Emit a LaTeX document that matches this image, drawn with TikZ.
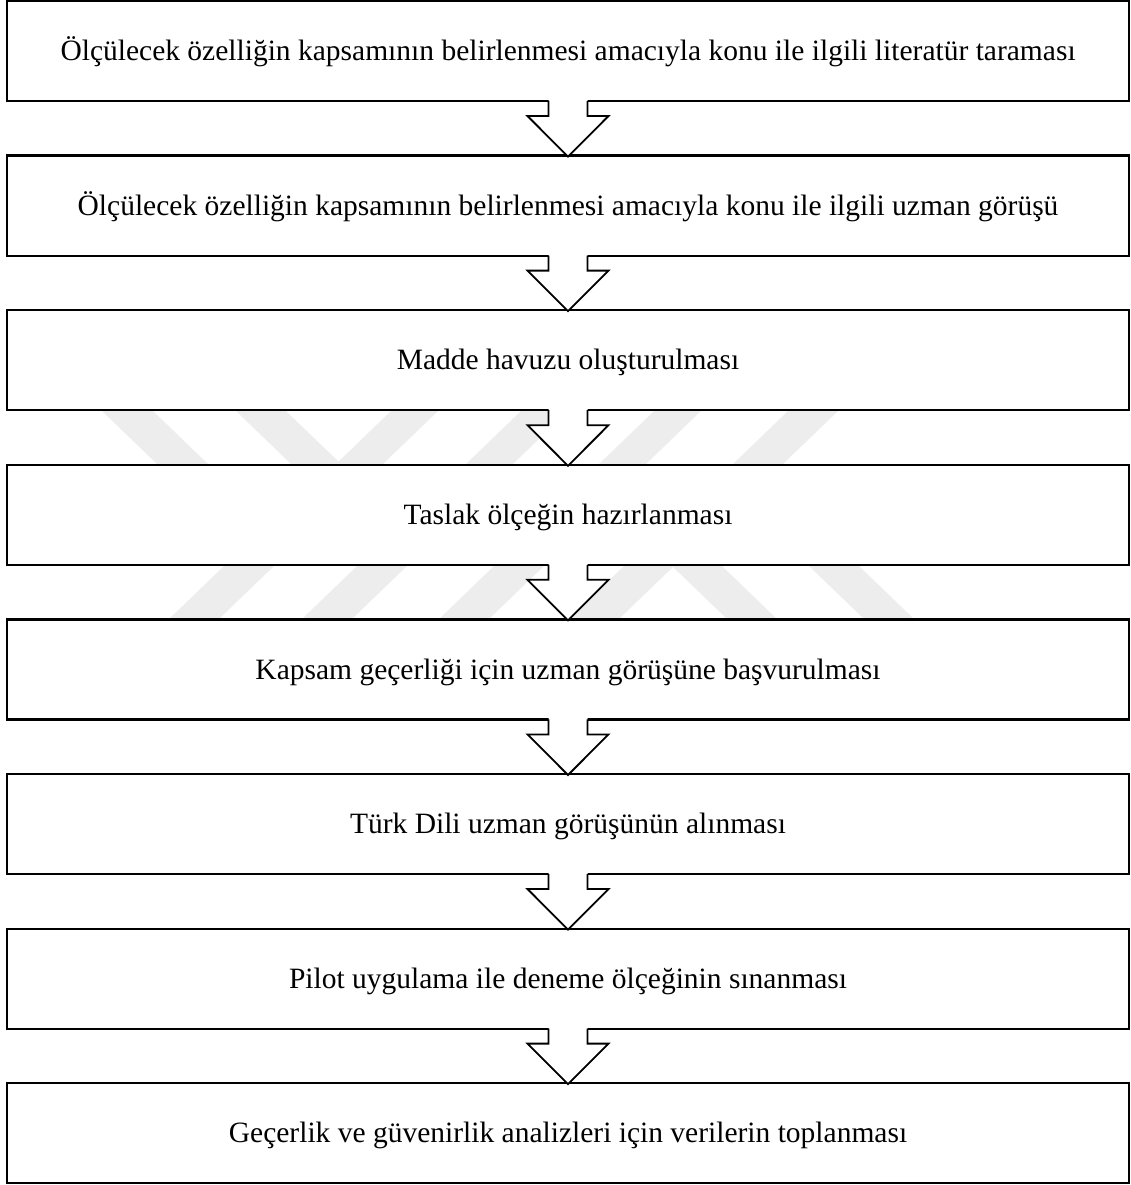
\documentclass[tikz,border=0pt]{standalone}
\usepackage{fontspec}
\setmainfont{Liberation Serif}
\usetikzlibrary{calc}
\tikzset{
  stepbox/.style={draw=black, line width=2.2pt, fill=white, rectangle,
    minimum width=1122pt, minimum height=100pt, inner sep=0pt, outer sep=0pt,
    text height=19.5pt, text depth=0pt, font=\fontsize{29.5}{34}\selectfont},
  flowarrow/.style={draw=black, line width=1.8pt, line join=miter},
  wmark/.style={fill=black!7},
}
\begin{document}
\begin{tikzpicture}[x=1pt,y=-1pt]
\useasboundingbox (0,0) rectangle (1130,1185);
% faint watermark seen in two gaps
\begin{scope}
  \clip (0,411) rectangle (1130,464);
  \fill[wmark] (102,411) -- (153,411) -- (208,464) -- (157,464) -- cycle;
  \fill[wmark] (236,411) -- (286,411) -- (341,464) -- (291,464) -- cycle;
  \fill[wmark] (391,411) -- (438,411) -- (383,464) -- (336,464) -- cycle;
  \fill[wmark] (521,411) -- (568,411) -- (513,464) -- (466,464) -- cycle;
  \fill[wmark] (654,411) -- (701,411) -- (646,464) -- (599,464) -- cycle;
  \fill[wmark] (788,411) -- (838,411) -- (783,464) -- (733,464) -- cycle;
\end{scope}
\begin{scope}
  \clip (0,566) rectangle (1130,619);
  \fill[wmark] (224,566) -- (274,566) -- (219,619) -- (169,619) -- cycle;
  \fill[wmark] (357,566) -- (407,566) -- (352,619) -- (302,619) -- cycle;
  \fill[wmark] (494,566) -- (544,566) -- (489,619) -- (439,619) -- cycle;
  \fill[wmark] (624,566) -- (674,566) -- (619,619) -- (569,619) -- cycle;
  \fill[wmark] (672,566) -- (722,566) -- (777,619) -- (727,619) -- cycle;
  \fill[wmark] (809,566) -- (859,566) -- (914,619) -- (864,619) -- cycle;
\end{scope}
% boxes
\node[stepbox] (b1) at (568,51)     {Ölçülecek özelliğin kapsamının belirlenmesi amacıyla konu ile ilgili literatür taraması};
\node[stepbox] (b2) at (568,205.6)  {Ölçülecek özelliğin kapsamının belirlenmesi amacıyla konu ile ilgili uzman görüşü};
\node[stepbox] (b3) at (568,360.2)  {Madde havuzu oluşturulması};
\node[stepbox] (b4) at (568,514.8)  {Taslak ölçeğin hazırlanması};
\node[stepbox] (b5) at (568,669.4)  {Kapsam geçerliği için uzman görüşüne başvurulması};
\node[stepbox] (b6) at (568,824)    {Türk Dili uzman görüşünün alınması};
\node[stepbox] (b7) at (568,978.6)  {Pilot uygulama ile deneme ölçeğinin sınanması};
\node[stepbox] (b8) at (568,1133.2) {Geçerlik ve güvenirlik analizleri için verilerin toplanması};
% block arrows
\foreach \j [count=\i] in {2,...,8} {
  \fill[white] ($(b\i.south)+(-19.5,-2)$) -- ($(b\i.south)+(-19.5,15)$)
    -- ($(b\i.south)+(-40.5,15)$) -- ($(b\j.north)+(0,1)$)
    -- ($(b\i.south)+(40.5,15)$) -- ($(b\i.south)+(19.5,15)$)
    -- ($(b\i.south)+(19.5,-2)$) -- cycle;
  \draw[flowarrow] ($(b\i.south)+(-19.5,0)$) -- ($(b\i.south)+(-19.5,15)$)
    -- ($(b\i.south)+(-40.5,15)$) -- ($(b\j.north)+(0,1)$)
    -- ($(b\i.south)+(40.5,15)$) -- ($(b\i.south)+(19.5,15)$)
    -- ($(b\i.south)+(19.5,0)$);
}
\end{tikzpicture}
\end{document}
